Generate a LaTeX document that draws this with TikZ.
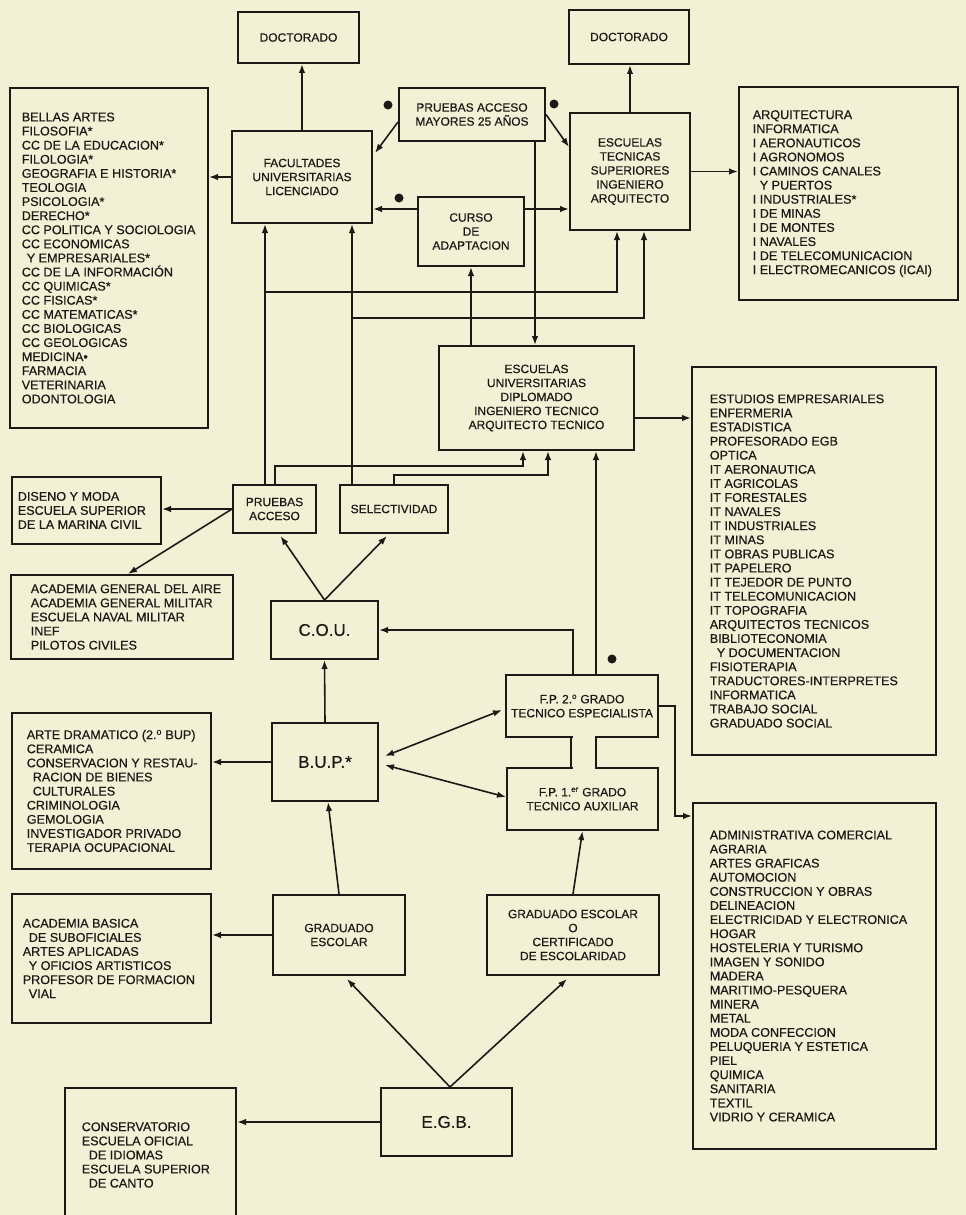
\documentclass[tikz,border=0pt]{standalone}
\usepackage{fontspec}
\setmainfont{Liberation Sans}[FakeBold=0.5]
\usetikzlibrary{arrows.meta}
\definecolor{paper}{RGB}{243,240,214}
\definecolor{ink}{RGB}{28,26,22}
\newcommand{\ind}{\hspace*{7pt}}

\begin{document}
\begin{tikzpicture}[x=1pt, y=-1pt, color=ink,
  >={Latex[length=9pt,width=6.5pt]},
  line width=1.6pt,
  wh/.style 2 args={minimum width=#1pt, minimum height=#2pt},
  box/.style={draw, line width=2pt, inner sep=0pt, align=center,
    font=\fontsize{12}{14}\selectfont},
  big/.style={box, font=\fontsize{17}{20}\selectfont},
  listbox/.style={draw, line width=2pt, inner sep=0pt},
  listtext/.style={anchor=west, align=left, inner sep=0pt,
    font=\fontsize{12.6}{14.1}\selectfont}]
\fill[paper] (0,0) rectangle (966,1215);
\useasboundingbox (0,0) rectangle (966,1215);

% upper level
\node[box, wh={121}{51}] (doca) at (298.5,37.5) {DOCTORADO};
\node[box, wh={120}{54}] (docb) at (629,37) {DOCTORADO};
\node[box, wh={140}{92}] (fac) at (302,177) {FACULTADES\\UNIVERSITARIAS\\LICENCIADO};
\node[box, wh={146}{53}] (may) at (472,114.5) {PRUEBAS ACCESO\\MAYORES 25 AÑOS};
\node[box, wh={106}{69}] (cur) at (471,231.5) {CURSO\\DE\\ADAPTACION};
\node[box, wh={120}{117}] (ets) at (630,171.5) {ESCUELAS\\TECNICAS\\SUPERIORES\\INGENIERO\\ARQUITECTO};
\node[box, wh={195}{104}] (eu) at (536.5,398) {ESCUELAS\\UNIVERSITARIAS\\DIPLOMADO\\INGENIERO TECNICO\\ARQUITECTO TECNICO};
\node[box, wh={83}{48}] (pru) at (274.5,509) {PRUEBAS\\ACCESO};
\node[box, wh={108}{48}] (sel) at (394,509) {SELECTIVIDAD};

\node[listbox, wh={198}{340}] (facl) at (109,258) {};
\node[listtext] (faclt) at ([xshift=12pt]facl.west) {BELLAS ARTES\\FILOSOFIA*\\CC DE LA EDUCACION*\\FILOLOGIA*\\GEOGRAFIA E HISTORIA*\\TEOLOGIA\\PSICOLOGIA*\\DERECHO*\\CC POLITICA Y SOCIOLOGIA\\CC ECONOMICAS\\\hspace*{5pt}Y EMPRESARIALES*\\CC DE LA INFORMACIÓN\\CC QUIMICAS*\\CC FISICAS*\\CC MATEMATICAS*\\CC BIOLOGICAS\\CC GEOLOGICAS\\MEDICINA\textbullet\\FARMACIA\\VETERINARIA\\ODONTOLOGIA};
\node[listbox, wh={219}{213}] (etsl) at (848.5,193.5) {};
\node[listtext] (etslt) at ([xshift=14pt]etsl.west) {ARQUITECTURA\\INFORMATICA\\I AERONAUTICOS\\I AGRONOMOS\\I CAMINOS CANALES\\\ind Y PUERTOS\\I INDUSTRIALES*\\I DE MINAS\\I DE MONTES\\I NAVALES\\I DE TELECOMUNICACION\\I ELECTROMECANICOS (ICAI)};
\node[listbox, wh={244}{388}] (eul) at (814,561) {};
\node[listtext] (eult) at ([xshift=18pt]eul.west) {ESTUDIOS EMPRESARIALES\\ENFERMERIA\\ESTADISTICA\\PROFESORADO EGB\\OPTICA\\IT AERONAUTICA\\IT AGRICOLAS\\IT FORESTALES\\IT NAVALES\\IT INDUSTRIALES\\IT MINAS\\IT OBRAS PUBLICAS\\IT PAPELERO\\IT TEJEDOR DE PUNTO\\IT TELECOMUNICACION\\IT TOPOGRAFIA\\ARQUITECTOS TECNICOS\\BIBLIOTECONOMIA\\\ind Y DOCUMENTACION\\FISIOTERAPIA\\TRADUCTORES-INTERPRETES\\INFORMATICA\\TRABAJO SOCIAL\\GRADUADO SOCIAL};
\node[listbox, wh={149}{67}] (dis) at (86.5,510.5) {};
\node[listtext] (dist) at ([xshift=6pt]dis.west) {DISENO Y MODA\\ESCUELA SUPERIOR\\DE LA MARINA CIVIL};
\node[listbox, wh={222}{84}] (aca) at (122,617) {};
\node[listtext] (acat) at ([xshift=20pt]aca.west) {ACADEMIA GENERAL DEL AIRE\\ACADEMIA GENERAL MILITAR\\ESCUELA NAVAL MILITAR\\INEF\\PILOTOS CIVILES};

% middle level
\node[big, wh={107}{58}] (cou) at (324.5,630) {C.O.U.};
\node[big, wh={106}{78}] (bup) at (325,762) {B.U.P.*};
\node[box, wh={152}{62}] (fpb) at (582,706) {F.P. 2.\textsuperscript{o} GRADO\\TECNICO ESPECIALISTA};
\node[box, wh={151}{62}] (fpa) at (582.5,799) {F.P. 1.\textsuperscript{er} GRADO\\TECNICO AUXILIAR};
\node[listbox, wh={199}{156}] (art) at (111.5,791) {};
\node[listtext] (artt) at ([xshift=15pt]art.west) {ARTE DRAMATICO (2.\textsuperscript{o} BUP)\\CERAMICA\\CONSERVACION Y RESTAU-\\\hspace*{6pt}RACION DE BIENES\\\hspace*{6pt}CULTURALES\\CRIMINOLOGIA\\GEMOLOGIA\\INVESTIGADOR PRIVADO\\TERAPIA OCUPACIONAL};
\node[listbox, wh={243}{346}] (fpl) at (814.5,976) {};
\node[listtext] (fplt) at ([xshift=17pt]fpl.west) {ADMINISTRATIVA COMERCIAL\\AGRARIA\\ARTES GRAFICAS\\AUTOMOCION\\CONSTRUCCION Y OBRAS\\DELINEACION\\ELECTRICIDAD Y ELECTRONICA\\HOGAR\\HOSTELERIA Y TURISMO\\IMAGEN Y SONIDO\\MADERA\\MARITIMO-PESQUERA\\MINERA\\METAL\\MODA CONFECCION\\PELUQUERIA Y ESTETICA\\PIEL\\QUIMICA\\SANITARIA\\TEXTIL\\VIDRIO Y CERAMICA};

% lower level
\node[box, wh={132}{80}] (gra) at (339,935) {GRADUADO\\ESCOLAR};
\node[box, wh={172}{80}] (cer) at (573,935) {GRADUADO ESCOLAR\\O\\CERTIFICADO\\DE ESCOLARIDAD};
\node[big, wh={131}{68}] (egb) at (446.5,1122) {E.G.B.};
\node[listbox, wh={199}{129}] (sub) at (111.5,958.5) {};
\node[listtext] (subt) at ([xshift=11pt]sub.west) {ACADEMIA BASICA\\\hspace*{6pt}DE SUBOFICIALES\\ARTES APLICADAS\\\hspace*{6pt}Y OFICIOS ARTISTICOS\\PROFESOR DE FORMACION\\\hspace*{6pt}VIAL};
\node[listbox, wh={171}{134}] (con) at (150.5,1155) {};
\node[listtext] (cont) at ([xshift=17pt]con.west) {CONSERVATORIO\\ESCUELA OFICIAL\\\ind DE IDIOMAS\\ESCUELA SUPERIOR\\\ind DE CANTO};

% neck between the two F.P. boxes
\fill[paper] (572.5,733) rectangle (594.5,772);
\draw[line width=2pt] (fpb.south -| 571,0) -- (fpa.north -| 571,0)
  (fpb.south -| 596,0) -- (fpa.north -| 596,0);

% connectors
\draw[->] (fac.north) -- (fac.north |- doca.south);
\draw[->] (fac.west) -- (fac.west -| facl.east);
\draw[->] ([yshift=-7.5pt]may.west) -- ([xshift=2pt,yshift=-23pt]fac.north east);
\draw[->] (may.east) -- ([yshift=-35pt]ets.north west);
\draw[->] (may.south -| 535,0) -- (eu.north -| 535,0);
\draw[->] (cur.west |- 0,209) -- (fac.east |- 0,209);
\draw[->] (cur.east |- 0,209) -- (ets.west |- 0,209);
\draw[->] (cur.south |- eu.north) -- (cur.south);
\draw[->] (ets.north) -- (ets.north |- docb.south);
\draw[->] (ets.east) -- (ets.east -| etsl.west);
\draw[->] (eu.east |- 0,418) -- (eul.west |- 0,418);

\draw[->] (pru.north -| 265,0) -- (fac.south -| 265,0);
\draw[->] (265,292) -| (ets.south -| 617,0);
\draw[->] (sel.north -| 352,0) -- (fac.south -| 352,0);
\draw[->] (352,318) -| (ets.south -| 644,0);
\draw[->] (pru.north -| 275,0) |- (523,466) -- (eu.south -| 523,0);
\draw[->] (sel.north) |- (548,475) -- (eu.south -| 548,0);

\draw[->] (pru.west) -- (pru.west -| dis.east);
\draw[->] (pru.west) -- (aca.north -| 128,0);
\draw[->] (cou.north) -- ([xshift=6pt,yshift=-2pt]pru.south);
\draw[->] (cou.north) -- ([xshift=-7pt,yshift=-2pt]sel.south);
\draw[->] (bup.north) -- (cou.south);
\draw[->] (bup.west) -- (bup.west -| art.east);
\draw[<->] ([xshift=6pt,yshift=6pt]bup.east) -- ([xshift=-3pt,yshift=-4pt]fpb.west);
\draw[<->] ([xshift=6pt,yshift=-3pt]bup.east) -- ([yshift=2pt]fpa.west);
\draw[->] (fpb.north -| 573,0) |- (cou.east);
\draw[->] (fpb.north -| 596,0) -- (eu.south -| 596,0);
\draw[->] (fpb.east) -| (675,816) -- (fpl.west |- 0,816);

\draw[->] (gra.north) -- ([xshift=3pt]bup.south);
\draw[->] (cer.north) -- (fpa.south);
\draw[->] (gra.west) -- (gra.west -| sub.east);
\draw[->] (egb.north -| 450,0) -- ([xshift=8pt,yshift=-3pt]gra.south);
\draw[->] (egb.north -| 450,0) -- ([xshift=-6pt,yshift=-3pt]cer.south);
\draw[->] (egb.west) -- (egb.west -| con.east);

% marks
\foreach \p in {(388,105), (554,104), (399,198), (612,659)}
  \fill \p circle[radius=4.5pt];
\end{tikzpicture}
\end{document}
